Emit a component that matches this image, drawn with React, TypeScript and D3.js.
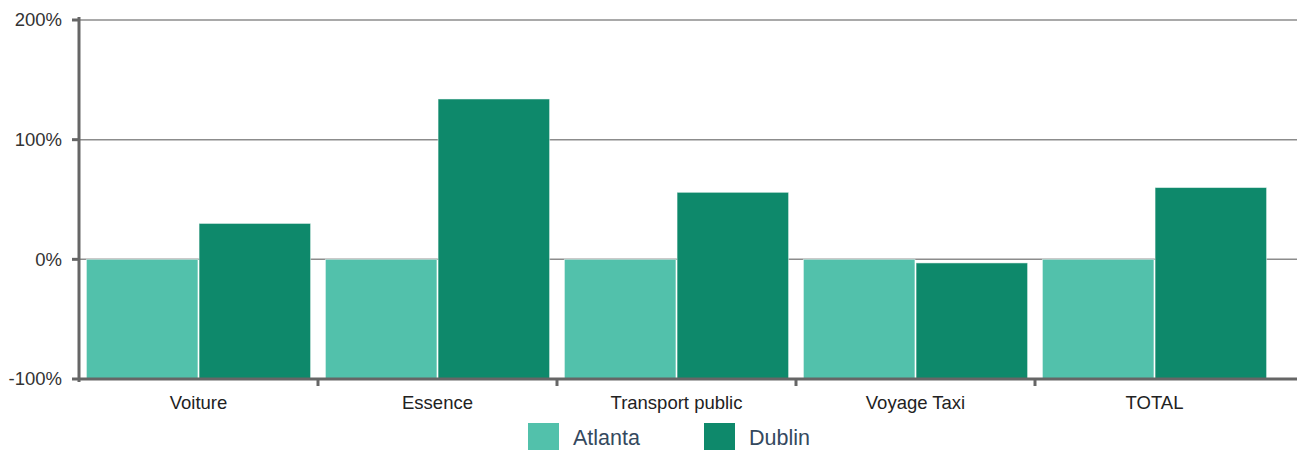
import React, { useEffect, useRef } from 'react';
import * as d3 from 'd3';

const categories = ['Voiture', 'Essence', 'Transport public', 'Voyage Taxi', 'TOTAL'];
const seriesNames = ['Atlanta', 'Dublin'];
const atlantaValues = [0, 0, 0, 0, 0];
const dublinValues = [30, 134, 56, -3, 60];
const yTicks = [-100, 0, 100, 200];
const colors = ['#52c1ab', '#0e896b'];

const App = () => {
  const svgRef = useRef(null);

  useEffect(() => {
    const width = 1297;
    const height = 450;
    const left = 79;
    const top = 20;
    const bottom = 379;

    const svg = d3.select(svgRef.current);
    svg.selectAll('*').remove();
    svg.attr('width', width).attr('height', height);

    const x0 = d3.scaleBand()
      .domain(categories)
      .range([left, left + 239 * 5])
      .paddingInner(0.062)
      .paddingOuter(0.031);

    const x1 = d3.scaleBand()
      .domain(seriesNames)
      .range([0, x0.bandwidth()])
      .paddingInner(0.01);

    const y = d3.scaleLinear().domain([-100, 200]).range([bottom, top]);

    // grid lines
    svg.append('g')
      .selectAll('line')
      .data(yTicks.filter(d => d !== -100))
      .enter()
      .append('line')
      .attr('x1', left)
      .attr('x2', width)
      .attr('y1', d => y(d))
      .attr('y2', d => y(d))
      .attr('stroke', '#8c8c8c')
      .attr('stroke-width', 1.5);

    const rows = categories.map((c, i) => ({ c, vals: [atlantaValues[i], dublinValues[i]] }));

    const groups = svg.append('g')
      .selectAll('g')
      .data(rows)
      .enter()
      .append('g')
      .attr('transform', d => `translate(${x0(d.c)},0)`);

    groups.selectAll('rect')
      .data(d => d.vals.map((v, i) => ({ key: seriesNames[i], v, i })))
      .enter()
      .append('rect')
      .attr('x', d => x1(d.key))
      .attr('width', x1.bandwidth())
      .attr('y', d => y(d.v))
      .attr('height', d => bottom - y(d.v))
      .attr('fill', d => colors[d.i])
      .attr('stroke', 'rgba(255,255,255,0.5)')
      .attr('stroke-width', 1);

    // y axis
    const yAxis = svg.append('g');
    yAxis.append('line')
      .attr('x1', left).attr('x2', left)
      .attr('y1', 17).attr('y2', bottom + 3)
      .attr('stroke', '#666').attr('stroke-width', 3);
    yAxis.selectAll('.tick')
      .data(yTicks)
      .enter()
      .append('line')
      .attr('x1', left - 7).attr('x2', left)
      .attr('y1', d => y(d)).attr('y2', d => y(d))
      .attr('stroke', '#666').attr('stroke-width', 3);
    yAxis.selectAll('text')
      .data(yTicks)
      .enter()
      .append('text')
      .attr('x', 62)
      .attr('y', d => y(d))
      .attr('dy', '0.35em')
      .attr('text-anchor', 'end')
      .attr('font-family', '"Liberation Sans", Arial, sans-serif')
      .attr('font-size', 18.5)
      .attr('fill', '#333')
      .text(d => `${d}%`);

    // x axis
    const xAxis = svg.append('g');
    xAxis.append('line')
      .attr('x1', left).attr('x2', width)
      .attr('y1', bottom).attr('y2', bottom)
      .attr('stroke', '#666').attr('stroke-width', 3);
    const step = x0.step();
    xAxis.selectAll('.tick')
      .data(categories.slice(1))
      .enter()
      .append('line')
      .attr('x1', d => x0(d) - (x0.paddingInner() * step) / 2)
      .attr('x2', d => x0(d) - (x0.paddingInner() * step) / 2)
      .attr('y1', bottom).attr('y2', bottom + 7)
      .attr('stroke', '#666').attr('stroke-width', 3);
    xAxis.selectAll('text')
      .data(categories)
      .enter()
      .append('text')
      .attr('x', d => x0(d) + x0.bandwidth() / 2)
      .attr('y', 409)
      .attr('text-anchor', 'middle')
      .attr('font-family', '"Liberation Sans", Arial, sans-serif')
      .attr('font-size', 18.5)
      .attr('fill', '#222')
      .text(d => d);

    // legend
    const legendX = [528, 704];
    const legend = svg.append('g');
    seriesNames.forEach((name, i) => {
      legend.append('rect')
        .attr('x', legendX[i]).attr('y', 423)
        .attr('width', 31).attr('height', 31)
        .attr('fill', colors[i]);
      legend.append('text')
        .attr('x', legendX[i] + 45).attr('y', 445)
        .attr('font-family', '"Liberation Sans", Arial, sans-serif')
        .attr('font-size', 21.5)
        .attr('fill', '#34495e')
        .text(name);
    });
  }, []);

  return (
    <svg ref={svgRef} style={{ position: 'absolute', left: 0, top: 0, display: 'block' }}></svg>
  );
};

export default App;
